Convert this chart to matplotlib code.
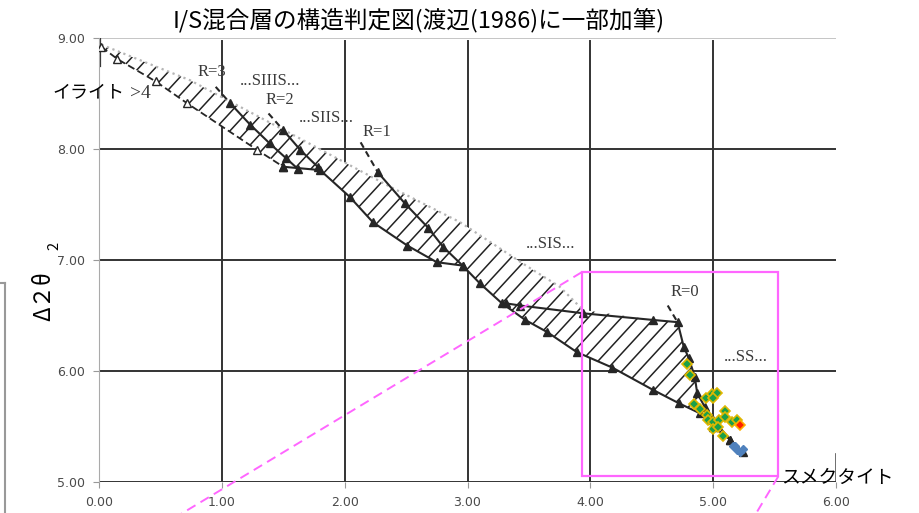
"""I/S混合層の構造判定図（渡辺 1986 を下敷きにした加筆図）を再現。"""
import numpy as np
import matplotlib
matplotlib.use("Agg")
import matplotlib.pyplot as plt
from matplotlib.collections import LineCollection
from matplotlib.patches import Polygon, Rectangle

plt.rcParams["font.family"] = ["Noto Sans CJK JP", "DejaVu Sans"]

# --- 判定図の線（読み取り値） ---
# 帯の上側境界（淡い点線）
upper_x = [0.02, 0.74, 1.66, 2.37, 2.94, 3.49, 3.75, 3.94]
upper_y = [8.94, 8.62, 8.08, 7.66, 7.34, 6.94, 6.76, 6.55]
# R>4 の破線（白抜き三角）
r4_x = [0.02, 0.15, 0.46, 0.72, 1.29, 1.50]
r4_y = [8.92, 8.81, 8.61, 8.41, 7.99, 7.84]
# 帯の下側境界（実線）
lower_x = [1.50, 1.80, 2.04, 2.23, 2.51, 2.75, 2.96, 3.10, 3.28, 3.47,
           3.65, 3.89, 4.18, 4.51, 4.72, 4.89, 5.00, 5.14, 5.24]
lower_y = [7.84, 7.81, 7.57, 7.34, 7.13, 6.98, 6.95, 6.79, 6.61, 6.46,
           6.35, 6.17, 6.03, 5.83, 5.71, 5.62, 5.50, 5.38, 5.27]
# R=0 領域の上辺と右辺
r0_x = [3.31, 3.43, 3.94, 4.51, 4.71, 4.76, 4.80, 4.85, 4.87, 4.93, 5.00, 5.14]
r0_y = [6.61, 6.59, 6.52, 6.46, 6.44, 6.22, 6.12, 5.95, 5.80, 5.68, 5.56, 5.38]
# R=3, R=2, R=1 の実線
s3_x = [1.07, 1.23, 1.39, 1.52, 1.62]
s3_y = [8.41, 8.22, 8.05, 7.92, 7.82]
s2_x = [1.50, 1.64, 1.78]
s2_y = [8.17, 7.99, 7.84]
s1_x = [2.27, 2.49, 2.68, 2.80, 2.96]
s1_y = [7.79, 7.51, 7.29, 7.12, 6.95]
# R の区切り破線
rline_x = [[0.95, 1.07], [1.38, 1.50], [2.13, 2.27], [4.63, 4.71]]
rline_y = [[8.56, 8.41], [8.32, 8.17], [8.06, 7.79], [6.59, 6.44]]

label_text = ["R=3", "...SIIIS...", "R=2", "...SIIS...", "R=1", ">4",
              "...SIS...", "R=0", "...SS..."]
label_x = [0.92, 1.39, 1.47, 1.85, 2.26, 0.34, 3.68, 4.77, 5.27]
label_y = [8.69, 8.61, 8.44, 8.28, 8.15, 8.50, 7.14, 6.71, 6.13]

# --- 測定値 ---
green_x = [4.79, 4.81, 4.94, 4.99, 5.03, 5.00, 4.84, 4.89, 4.95, 4.96,
           5.00, 5.05, 5.10, 5.10, 5.15, 5.19, 5.00, 5.04, 5.08]
green_y = [6.06, 5.96, 5.76, 5.79, 5.80, 5.76, 5.70, 5.66, 5.60, 5.56,
           5.54, 5.56, 5.64, 5.59, 5.54, 5.56, 5.48, 5.50, 5.41]
red_x = [5.22]
red_y = [5.51]
blue_x = [5.16, 5.18, 5.19, 5.22, 5.24]
blue_y = [5.32, 5.32, 5.29, 5.27, 5.30]

# 拡大枠と引き出し線
box_x = [3.93, 5.53]
box_y = [5.05, 6.89]
lead1_x = [3.93, 0.65]
lead1_y = [6.89, 4.70]
lead2_x = [5.53, 5.34]
lead2_y = [5.05, 4.70]

fig = plt.figure(figsize=(9.19, 5.13), dpi=100)
ax = fig.add_axes([99 / 919, 31 / 513, 737 / 919, 444 / 513])
ax.set_xlim(0, 6)
ax.set_ylim(5, 9)

# グリッド
for gx in range(1, 6):
    ax.plot([gx, gx], [5, 8.97], color="#333333", lw=1.4, zorder=1)
ax.plot([6, 6], [5, 5.25], color="#555555", lw=1.2, zorder=1)
for gy in range(5, 9):
    ax.plot([0, 6], [gy, gy], color="#333333", lw=1.4, zorder=1)
ax.plot([0, 6], [9, 9], color="#bbbbbb", lw=1.2, zorder=1)
ax.plot([0.01, 0.01], [8.75, 9.0], color="#333333", lw=1.6, zorder=1)

# ハッチ領域（斜線は多角形でクリップ）
poly_x = upper_x + r0_x[3:] + lower_x[::-1] + r4_x[::-1]
poly_y = upper_y + r0_y[3:] + lower_y[::-1] + r4_y[::-1]
band = Polygon(list(zip(poly_x, poly_y)), closed=True, facecolor="white",
               edgecolor="none", zorder=2)
ax.add_patch(band)
slope = 1.2  # 画面上でおよそ 47°
segs = [[(c, 5.0), (c + 4.0 / slope, 9.0)] for c in np.arange(-4.0, 6.0, 0.135)]
hatch = LineCollection(segs, colors="#222222", linewidths=1.1, zorder=2.5)
ax.add_collection(hatch)
hatch.set_clip_path(band)

ink = "#262626"
ax.plot(upper_x, upper_y, ls=":", color="#b5b5b5", lw=1.6, zorder=3)
ax.plot(r4_x, r4_y, ls=(0, (4, 2)), color=ink, lw=1.3, marker="^", ms=6,
        mfc="white", mec=ink, zorder=4)
for xs, ys in [(lower_x, lower_y), (r0_x, r0_y), (s3_x, s3_y), (s2_x, s2_y), (s1_x, s1_y)]:
    ax.plot(xs, ys, color=ink, lw=1.5, marker="^", ms=6, mfc=ink, mec=ink, zorder=4)
for xs, ys in zip(rline_x, rline_y):
    ax.plot(xs, ys, ls=(0, (3, 2)), color=ink, lw=1.5, zorder=4)

for t, x, y in zip(label_text, label_x, label_y):
    ax.text(x, y, t, family=["Liberation Serif", "DejaVu Serif"],
            fontsize=14 if t == ">4" else 12,
            color="#3a3a3a", ha="center", va="center", zorder=5)

ax.plot(green_x, green_y, ls="none", marker="D", ms=5, mfc="#1aa04a",
        mec="#e0b800", mew=1.2, zorder=6)
ax.plot(red_x, red_y, ls="none", marker="D", ms=5, mfc="#ff2000",
        mec="#ffb000", mew=1.2, zorder=6)
ax.plot(blue_x, blue_y, ls="none", marker="D", ms=4.5, mfc="#4f81bd",
        mec="#4f81bd", zorder=6)

ax.add_patch(Rectangle((box_x[0], box_y[0]), box_x[1] - box_x[0], box_y[1] - box_y[0],
                       fill=False, edgecolor="#ff66ff", lw=1.6, zorder=7))
ax.plot(lead1_x, lead1_y, ls=(0, (5, 3)), color="#ff66ff", lw=1.4, clip_on=False, zorder=7)
ax.plot(lead2_x, lead2_y, ls=(0, (5, 3)), color="#ff66ff", lw=1.4, clip_on=False, zorder=7)

ax.text(-0.09, 8.51, "イライト", fontsize=13, color="black", ha="center",
        va="center", zorder=8, clip_on=False)
ax.text(6.01, 5.04, "スメクタイト", fontsize=13.5, color="black", ha="center",
        va="center", zorder=8, clip_on=False)

# 軸
for s in ["top", "right", "bottom"]:
    ax.spines[s].set_visible(False)
ax.spines["left"].set_color("#aaaaaa")
ax.set_xticks(range(0, 7))
ax.set_yticks(range(5, 10))
ax.set_xticklabels([f"{v:.2f}" for v in range(0, 7)], family="DejaVu Sans")
ax.set_yticklabels([f"{v:.2f}" for v in range(5, 10)], family="DejaVu Sans")
ax.tick_params(length=4, color="#999999", labelsize=9, labelcolor="#4a4a4a", pad=6)

fig.text(173 / 919, 1 - 20 / 513, "I/S混合層の構造判定図(渡辺(1986)に一部加筆)",
         fontsize=17, ha="left", va="center")
fig.text(44 / 919, 1 - 296 / 513, "Δ２θ", fontsize=16, rotation=90,
         ha="center", va="center")
fig.text(54 / 919, 1 - 246 / 513, "2", fontsize=10.5, rotation=90,
         ha="center", va="center")
fig.add_artist(plt.Line2D([5 / 919, 5 / 919], [0, 1 - 283 / 513], color="#999999", lw=1.5))
fig.add_artist(plt.Line2D([0, 5 / 919], [1 - 283 / 513, 1 - 283 / 513], color="#999999", lw=1.5))

fig.savefig("out.png", dpi=100)
